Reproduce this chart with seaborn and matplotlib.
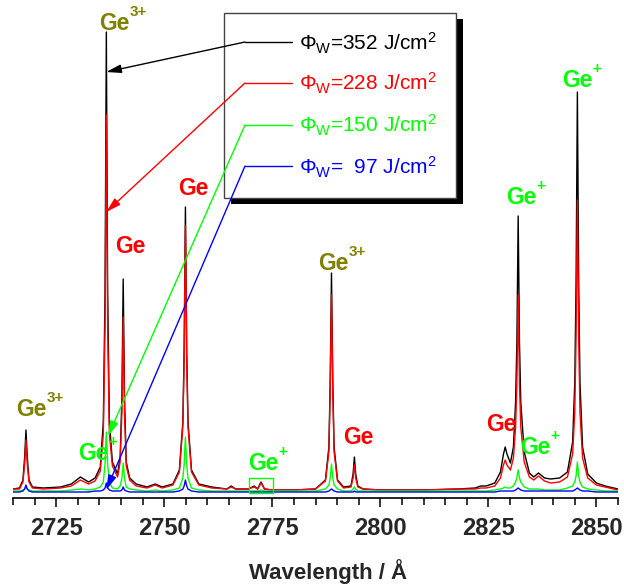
import matplotlib
matplotlib.use("Agg")
import matplotlib.pyplot as plt
import numpy as np
import pandas as pd
import seaborn as sns
from matplotlib.patches import Rectangle
from matplotlib.lines import Line2D
from matplotlib.ticker import MultipleLocator

# ---------------- data ----------------
wavelength = [
    2715.0, 2716.5, 2717.3, 2717.7, 2718.0, 2718.3, 2718.7, 2719.5, 2722.0, 2726.0,
    2728.5, 2730.6, 2732.5, 2734.0, 2735.2, 2735.9, 2736.3, 2736.6, 2736.9, 2737.3,
    2738.0, 2739.2, 2739.8, 2740.2, 2740.5, 2740.8, 2741.2, 2742.0, 2743.5, 2746.0,
    2747.9, 2749.5, 2752.0, 2753.5, 2754.3, 2754.6, 2754.9, 2755.2, 2755.5, 2756.3,
    2758.0, 2761.0, 2764.5, 2765.5, 2766.5, 2769.5, 2770.8, 2771.6, 2772.4, 2773.2,
    2775.0, 2780.0, 2785.0, 2787.3, 2788.1, 2788.4, 2788.7, 2789.0, 2789.3, 2790.1,
    2791.5, 2793.2, 2793.7, 2794.0, 2794.3, 2794.8, 2796.0, 2800.0, 2810.0, 2818.0,
    2822.0, 2823.2, 2824.5, 2826.5, 2827.8, 2828.5, 2828.9, 2829.3, 2830.1, 2830.8,
    2831.3, 2831.6, 2831.9, 2832.2, 2832.5, 2833.3, 2834.5, 2835.5, 2836.6, 2838.0,
    2839.4, 2841.5, 2843.3, 2844.5, 2845.0, 2845.3, 2845.6, 2845.9, 2846.2, 2846.8,
    2848.0, 2850.0, 2852.0, 2855.0,
]
phi_352 = [
    3, 4, 12, 35, 62, 35, 12, 5, 4, 5,
    8, 15, 10, 14, 25, 70, 200, 460, 200, 70,
    30, 18, 35, 95, 213, 95, 30, 14, 8, 5,
    8, 5, 8, 22, 70, 140, 285, 140, 70, 22,
    8, 5, 3, 6, 3, 3, 6, 3, 10, 3,
    2, 2, 3, 12, 45, 110, 219, 110, 45, 12,
    5, 6, 18, 35, 18, 6, 3, 2, 2, 3,
    4, 6, 6, 9, 20, 38, 45, 38, 29, 45,
    90, 150, 276, 150, 90, 40, 19, 15, 19, 14,
    13, 14, 20, 50, 110, 210, 400, 210, 110, 45,
    18, 9, 6, 3,
]
phi_228 = [
    3, 3, 10, 28, 52, 28, 10, 4, 3, 4,
    6, 12, 8, 11, 21, 58, 165, 377, 165, 58,
    26, 15, 30, 80, 175, 80, 26, 12, 6, 4,
    7, 4, 7, 20, 65, 130, 266, 130, 65, 20,
    7, 4, 3, 5, 3, 3, 5, 3, 9, 3,
    2, 2, 3, 11, 40, 100, 197, 100, 40, 11,
    4, 5, 14, 27, 14, 5, 3, 2, 2, 3,
    3, 4, 4, 6, 14, 27, 32, 27, 22, 34,
    65, 108, 197, 108, 65, 30, 15, 12, 16, 11,
    9, 10, 15, 38, 80, 155, 292, 155, 80, 34,
    14, 7, 5, 2,
]
phi_150 = [
    1, 1, 2, 3, 5, 3, 2, 1, 1, 1,
    2, 3, 2, 3, 5, 10, 28, 60, 28, 10,
    4, 3, 6, 14, 29, 14, 5, 3, 2, 1,
    2, 1, 2, 4, 14, 27, 55, 27, 14, 4,
    2, 1, 1, 1, 1, 1, 1, 1, 2, 1,
    1, 1, 1, 3, 7, 14, 28, 14, 7, 3,
    1, 1, 3, 5, 3, 1, 1, 1, 1, 1,
    1, 1, 1, 2, 3, 4, 5, 4, 4, 6,
    10, 14, 22, 14, 10, 5, 3, 3, 3, 2,
    2, 2, 4, 6, 10, 16, 30, 16, 10, 5,
    3, 2, 1, 1,
]
phi_97 = [
    0, 0, 1, 3, 7, 3, 1, 0, 0, 0,
    0, 0, 0, 1, 1, 2, 4, 9, 4, 2,
    1, 1, 1, 2, 5, 2, 1, 0, 0, 0,
    0, 0, 0, 1, 3, 6, 12, 6, 3, 1,
    0, 0, 0, 0, 0, 0, 0, 0, 0, 0,
    0, 0, 0, 0, 1, 2, 3, 2, 1, 0,
    0, 0, 0, 1, 0, 0, 0, 0, 0, 0,
    0, 0, 0, 0, 1, 1, 1, 1, 1, 1,
    2, 3, 4, 3, 2, 1, 1, 1, 1, 1,
    1, 1, 1, 1, 2, 3, 4, 3, 2, 1,
    1, 0, 0, 0,
]
fluences = ["352", "228", "150", "97"]
legend_texts = [
    r"$\Phi_{\mathrm{W}}$=352 J/cm$^{2}$",
    r"$\Phi_{\mathrm{W}}$=228 J/cm$^{2}$",
    r"$\Phi_{\mathrm{W}}$=150 J/cm$^{2}$",
    r"$\Phi_{\mathrm{W}}$=  97 J/cm$^{2}$",
]
tick_values = [2725, 2750, 2775, 2800, 2825, 2850]
tick_labels = ["2725", "2750", "2775", "2800", "2825", "2850"]

# ion labels: base text, charge superscript, colour key
ion_charge = ["3+", "3+", "+", "", "", "+", "3+", "", "", "+", "+", "+"]
ion_kind = ["olive", "olive", "green", "red", "red", "green", "olive", "red", "red",
            "green", "green", "green"]
# label anchor positions (left, baseline) in data units
ion_x = [2734.95, 2715.74, 2730.09, 2738.66, 2753.24, 2769.44, 2785.65, 2791.44,
         2824.54, 2832.41, 2829.17, 2842.13]
ion_y = [462, 76, 32, 239, 297, 22, 222, 48, 61, 38, 288, 405]

# arrow targets on the 2737 peak
arrow_x = [2736.57, 2736.57, 2737.0, 2736.57]
arrow_y = [420, 280, 56, 2]

# ---------------- style ----------------
sns.set_style("white")
plt.rcParams["font.family"] = ["Liberation Sans", "DejaVu Sans"]
plt.rcParams["mathtext.fontset"] = "custom"
plt.rcParams["mathtext.rm"] = "Liberation Sans"
plt.rcParams["mathtext.it"] = "Liberation Sans:italic"
plt.rcParams["mathtext.bf"] = "Liberation Sans:bold"

colors = {"black": "#000000", "red": "#ff0000", "green": "#00ff00",
          "blue": "#0000ff", "olive": "#808000"}
line_colors = [colors["black"], colors["red"], colors["green"], colors["blue"]]

W, H = 624, 586
fig = plt.figure(figsize=(W / 100, H / 100), dpi=100)
ax = fig.add_axes([13 / W, 88 / H, 605 / W, 498 / H])

df = pd.concat([
    pd.DataFrame({"wavelength": wavelength, "intensity": vals, "fluence": f})
    for f, vals in zip(fluences, [phi_352, phi_228, phi_150, phi_97])
])
sns.lineplot(data=df, x="wavelength", y="intensity", hue="fluence",
             hue_order=fluences, palette=line_colors, estimator=None,
             legend=False, lw=1.0, ax=ax)

ax.set_xlim(2715, 2855)
ax.set_ylim(-6, 492)
for s in ["top", "left", "right"]:
    ax.spines[s].set_visible(False)
ax.spines["bottom"].set_linewidth(1.2)
ax.spines["bottom"].set_color("black")
ax.set_yticks([])
ax.set_ylabel("")
ax.set_xticks(tick_values)
ax.set_xticklabels(tick_labels, fontweight="bold", fontsize=17)
ax.xaxis.set_minor_locator(MultipleLocator(5))
ax.tick_params(axis="x", which="major", length=6.5, width=1.1, direction="out",
               pad=7, bottom=True, color="black")
ax.tick_params(axis="x", which="minor", length=5, width=1.1, direction="out",
               bottom=True, color="black")
ax.set_xlabel("Wavelength / Å", fontweight="bold", fontsize=16)
ax.xaxis.set_label_coords(0.52, -0.122)

# small green box around Ge+ doublet
ax.add_patch(Rectangle((2769.7, -1), 5.5, 15, fill=False, ec=colors["green"],
                       lw=1.0, zorder=4))

# ion labels
for q, k, x, y in zip(ion_charge, ion_kind, ion_x, ion_y):
    ax.text(x, y, "Ge", color=colors[k], fontsize=16.5, fontweight="bold",
            ha="left", va="baseline", zorder=6)
    if q:
        ax.annotate(q, xy=(x, y), xycoords="data", xytext=(21.8, 10),
                    textcoords="offset points", color=colors[k], fontsize=11,
                    fontweight="bold", ha="left", va="baseline", zorder=6)

# custom legend box with shadow
def fx(px):
    return px / W

def fy(py):
    return 1 - py / H

ax.add_patch(Rectangle((fx(231), fy(204)), (463 - 231) / W, (204 - 19) / H,
                       transform=fig.transFigure, fc="black", ec="none",
                       zorder=8, clip_on=False))
ax.add_patch(Rectangle((fx(224), fy(198)), (456 - 224) / W, (198 - 13) / H,
                       transform=fig.transFigure, fc="white", ec="#444444",
                       lw=1.0, zorder=9, clip_on=False))

legend_rows = [42, 83, 125, 166]
for c, row, txt, tx, ty in zip(line_colors, legend_rows, legend_texts, arrow_x, arrow_y):
    ax.add_line(Line2D([fx(245), fx(292)], [fy(row), fy(row)],
                       transform=fig.transFigure, color=c, lw=1.0,
                       zorder=10, clip_on=False))
    ax.annotate("", xy=(tx, ty), xycoords="data",
                xytext=(fx(245), fy(row)), textcoords="figure fraction",
                arrowprops=dict(arrowstyle="-|>,head_length=0.6,head_width=0.17",
                                color=c, lw=1.0, shrinkA=0, shrinkB=0,
                                mutation_scale=15),
                zorder=10, annotation_clip=False)
    ax.text(fx(299), fy(row + 8), txt, transform=fig.transFigure, color=c,
            fontsize=15, ha="left", va="baseline", zorder=11)

fig.savefig("out.png", dpi=100)
